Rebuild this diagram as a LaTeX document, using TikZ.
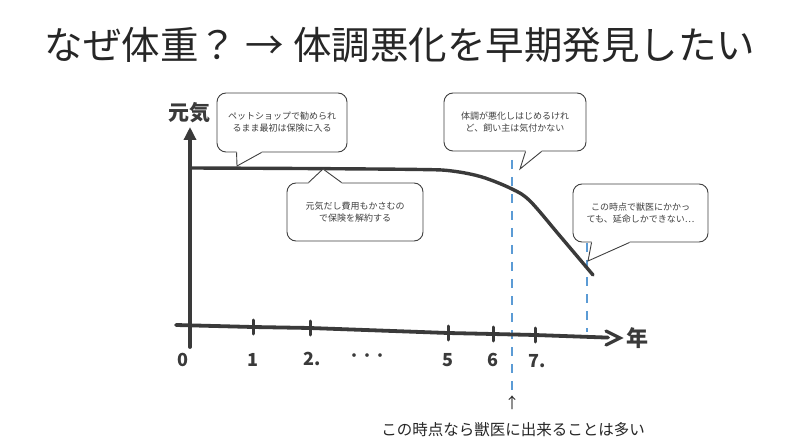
\documentclass[tikz,border=0pt]{standalone}
\usepackage{fontspec}
\setmainfont{Noto Sans CJK JP}
\usetikzlibrary{arrows.meta,calc}
\definecolor{ink}{HTML}{3A3A3A}
\definecolor{dashblue}{HTML}{5B9BD5}
\definecolor{txt}{HTML}{404040}
\definecolor{titlecol}{HTML}{262626}
\newcommand\tailto[3]{%
  \fill[white] (#1) -- (#2) -- (#3) -- ($(#3)+(0,-1.5)$) -- ($(#1)+(0,-1.5)$) -- cycle;
  \draw[draw=txt, line width=0.9pt, line join=miter] (#1) -- (#2) -- (#3);}
\begin{document}
\begin{tikzpicture}[x=1pt,y=-1pt,
  bubble/.style={draw=txt, line width=0.9pt, rounded corners=9pt, fill=white,
    align=center, inner sep=0pt, text=txt, font=\fontsize{9}{12}\selectfont},
  axisline/.style={draw=ink, line width=3.8pt, line cap=round},
  curveline/.style={draw=ink, line width=3.4pt, line cap=round, line join=round},
  tickline/.style={draw=ink, line width=3pt, line cap=round},
  bluedash/.style={draw=dashblue, line width=2.4pt, dash pattern=on 9pt off 8pt},
  numlbl/.style={text=ink, font=\fontsize{18}{18}\selectfont\bfseries, inner sep=0pt},
  bigkanji/.style={text=ink, font=\fontsize{21}{21}\selectfont\bfseries, inner sep=0pt}]
\useasboundingbox (0,0) rectangle (800,446);

% title
\node[text=titlecol, font=\fontsize{38.5}{38.5}\selectfont, inner sep=0pt] (title) at (400,45)
  {なぜ体重？ → 体調悪化を早期発見したい};

% blue dashed lines
\coordinate (d1t) at (512,160);
\coordinate (d1b) at (512,393);
\coordinate (d2t) at (587,243);
\coordinate (d2b) at (587,332);
\draw[bluedash] (d1t) -- (d1b);
\draw[bluedash] (d2t) -- (d2b);

% axes
\coordinate (yb) at (190,347);
\coordinate (yt) at (190,127);
\draw[axisline, -{Triangle[length=13pt,width=12pt]}] (yb) -- (yt);
\coordinate (xs) at (176,325);
\coordinate (xe) at (620,338);
\draw[axisline] (xs) -- (253,327) -- (310,328) -- (448,333) -- (493,334) -- (535,335) -- (608,337.6);
\draw[draw=ink, line width=3.2pt, line cap=round, line join=miter] (606,331) -- (xe) -- (606,345);

% ticks
\foreach \tx/\ty in {253/327, 310/328, 448/333, 493/334, 535/335}
  \draw[tickline] (\tx,\ty-7) -- (\tx,\ty+7);

% tick labels
\node[numlbl] (n0) at (183,360) {0};
\node[numlbl] (n1) at (253,360) {1};
\node[numlbl] (n2) at (312,359) {2.};
\node[text=ink, font=\fontsize{13}{13}\selectfont\bfseries, inner sep=0pt] (ndots) at (367,357) {・・・};
\node[numlbl] (n5) at (448,360) {5};
\node[numlbl] (n6) at (493,360) {6};
\node[numlbl] (n7) at (537,361) {7.};

% axis titles
\node[bigkanji] (ylab) at (189,113) {元気};
\node[bigkanji, font=\fontsize{22}{22}\selectfont\bfseries] (xlab) at (637,338) {年};

% health curve
\draw[curveline] plot[smooth, tension=0.55] coordinates
  {(190,168) (300,168.5) (420,169.5) (452,171) (482,177) (512,189) (530,201) (560,236) (593,275)};
\coordinate (c1) at (237,166);
\coordinate (c2) at (323,169);
\coordinate (c3) at (520,169);
\coordinate (c4) at (588,261);

% bubbles
\node[bubble, minimum width=130pt, minimum height=59pt] (b1) at (282,122.5)
  {ペットショップで勧められ\\るまま最初は保険に入る};
\tailto{$(b1.south west)+(20,0)$}{c1}{$(b1.south west)+(45,0)$}

\node[bubble, minimum width=136pt, minimum height=58pt] (b2) at (355,212)
  {元気だし費用もかさむの\\で保険を解約する};
\fill[white] ($(b2.north west)+(22,0)$) -- (c2) -- ($(b2.north west)+(55,0)$) -- ($(b2.north west)+(55,1.5)$) -- ($(b2.north west)+(22,1.5)$) -- cycle;
\draw[draw=txt, line width=0.9pt, line join=miter] ($(b2.north west)+(22,0)$) -- (c2) -- ($(b2.north west)+(55,0)$);

\node[bubble, minimum width=142pt, minimum height=58pt] (b3) at (515,122)
  {体調が悪化しはじめるけれ\\ど、飼い主は気付かない};
\tailto{$(b3.south west)+(82,0)$}{c3}{$(b3.south west)+(98,0)$}

\node[bubble, minimum width=135pt, minimum height=58pt] (b4) at (640.5,213)
  {この時点で獣医にかかっ\\ても、延命しかできない…};
\tailto{$(b4.south west)+(19,0)$}{c4}{$(b4.south west)+(57,0)$}

% bottom note
\node[text=titlecol, font=\fontsize{15}{15}\selectfont, inner sep=0pt] (up) at (512,403) {↑};
\node[text=titlecol, font=\fontsize{15.5}{15.5}\selectfont, inner sep=0pt] (note) at (513,430)
  {この時点なら獣医に出来ることは多い};
\end{tikzpicture}
\end{document}
